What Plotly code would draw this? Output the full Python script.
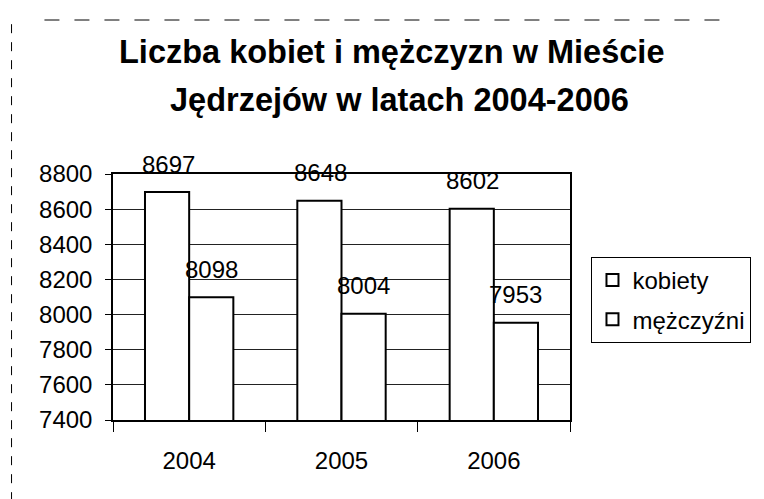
import plotly.graph_objects as go

years = ["2004", "2005", "2006"]
kobiety = [8697, 8648, 8602]
mezczyzni = [8098, 8004, 7953]
y_ticks = [7400, 7600, 7800, 8000, 8200, 8400, 8600, 8800]

FONT = "Liberation Sans, Arial, sans-serif"

fig = go.Figure()
fig.add_trace(go.Bar(name="kobiety", x=years, y=kobiety, legendgroup="k",
                     marker=dict(color="white", line=dict(color="black", width=2))))
fig.add_trace(go.Bar(name="mężczyźni", x=years, y=mezczyzni, legendgroup="m",
                     marker=dict(color="white", line=dict(color="black", width=2))))

annotations = []
for i, yr in enumerate(years):
    annotations.append(dict(x=i, y=kobiety[i], text=str(kobiety[i]), showarrow=False,
                            xshift=-21, yshift=28, font=dict(size=24, color="black", family=FONT)))
    annotations.append(dict(x=i, y=mezczyzni[i], text=str(mezczyzni[i]), showarrow=False,
                            xshift=22, yshift=28, font=dict(size=24, color="black", family=FONT)))

annotations.append(dict(xref="paper", yref="paper", x=0.609, y=1.496, xanchor="center", yanchor="middle",
                        text="<b>Liczba kobiet i mężczyzn w Mieście</b>", showarrow=False,
                        font=dict(size=32.5, color="black", family=FONT)))
annotations.append(dict(xref="paper", yref="paper", x=0.628, y=1.301, xanchor="center", yanchor="middle",
                        text="<b>Jędrzejów w latach 2004-2006</b>", showarrow=False,
                        font=dict(size=32.5, color="black", family=FONT)))

fig.update_layout(
    width=764, height=499,
    margin=dict(l=113, r=187, t=174, b=79),
    paper_bgcolor="white", plot_bgcolor="white",
    barmode="group", bargap=0.42, bargroupgap=0,
    showlegend=True,
    legend=dict(x=1.047, y=0.663, xanchor="left", yanchor="top",
                bordercolor="black", borderwidth=1, bgcolor="white",
                font=dict(size=24, color="black", family=FONT),
                itemwidth=30, tracegroupgap=5),
    annotations=annotations,
    font=dict(family=FONT, color="black"),
    shapes=[
        dict(type="line", xref="paper", yref="paper", x0=-0.222, x1=-0.222, y0=-0.33, y1=1.64,
             line=dict(color="black", width=1, dash="dash")),
        dict(type="line", xref="paper", yref="paper", x0=-0.15, x1=1.35, y0=1.626, y1=1.626,
             line=dict(color="black", width=1, dash="longdash")),
    ],
)
fig.update_xaxes(type="category", range=[-0.5, 2.5], showline=True, linecolor="black", linewidth=1.5,
                 mirror=True, ticks="outside", tickson="boundaries", ticklen=10,
                 tickcolor="black", showgrid=False, tickangle=0,
                 tickfont=dict(size=24, color="black", family=FONT),
                 ticklabelstandoff=18)
fig.update_yaxes(range=[7400, 8800], tickvals=y_ticks, ticktext=[str(v) for v in y_ticks],
                 showline=True, linecolor="black", linewidth=1.5, mirror=True,
                 showgrid=True, gridcolor="#222222", gridwidth=1,
                 ticks="outside", ticklen=6, tickcolor="black",
                 tickfont=dict(size=24, color="black", family=FONT),
                 ticklabelstandoff=8, zeroline=False)

fig.write_html(
    "out.html",
    config={"displayModeBar": False},
    post_script=(
        "document.body.style.margin='0';"
        "document.body.style.overflow='hidden';"
        "document.documentElement.style.overflow='hidden';"
    ),
)
